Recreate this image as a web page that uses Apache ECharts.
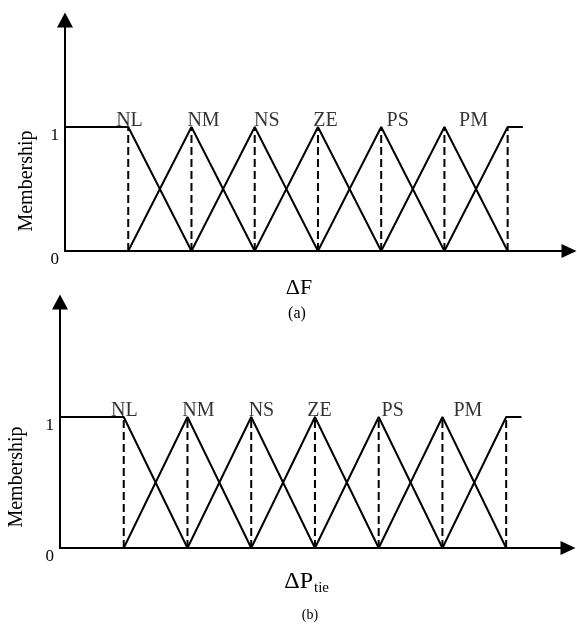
<!DOCTYPE html>
<html>
<head>
<meta charset="utf-8">
<script src="https://cdn.jsdelivr.net/npm/echarts@6/dist/echarts.min.js"></script>
<style>
html, body { margin: 0; padding: 0; background: #fff; }
#chart { width: 577px; height: 630px; }
</style>
</head>
<body>
<div id="chart"></div>
<script>
// fuzzy set labels and the x (universe units) where each label sits
const setNames = ['NL', 'NM', 'NS', 'ZE', 'PS', 'PM']
const labelPosA = [1.02, 2.19, 3.19, 4.12, 5.26, 6.46]
const labelPosB = [1.01, 2.17, 3.16, 4.07, 5.22, 6.40]

// peaks of the membership functions (dashed drop lines)
const peaks = [1, 2, 3, 4, 5, 6, 7]

// membership function breakpoints [x, membership]
const mfNL = [[0, 1], [1, 1], [2, 0]]
const mfNM = [[1, 0], [2, 1], [3, 0]]
const mfNS = [[2, 0], [3, 1], [4, 0]]
const mfZE = [[3, 0], [4, 1], [5, 0]]
const mfPS = [[4, 0], [5, 1], [6, 0]]
const mfPM = [[5, 0], [6, 1], [7, 0]]
const mfPL = [[6, 0], [7, 1], [7.24, 1]]
const membershipFns = [mfNL, mfNM, mfNS, mfZE, mfPS, mfPM, mfPL]

const yTickLabels = [0, 1]

const FONT = 'Liberation Serif'
const INK = '#000'

function axesFor(idx, yMax) {
  let x = {
    gridIndex: idx,
    type: 'value',
    min: 0,
    max: 7.97,
    axisLine: {
      show: true,
      symbol: ['none', 'triangle'],
      symbolSize: [14, 15],
      lineStyle: { color: INK, width: 2 }
    },
    axisTick: { show: false },
    axisLabel: { show: false },
    splitLine: { show: false }
  }
  let y = {
    gridIndex: idx,
    type: 'value',
    min: 0,
    max: yMax,
    interval: 1,
    axisLine: {
      show: true,
      symbol: ['none', 'triangle'],
      symbolSize: [16, 15],
      lineStyle: { color: INK, width: 2 }
    },
    axisTick: { show: false },
    splitLine: { show: false },
    axisLabel: {
      margin: 6,
      color: INK,
      fontFamily: FONT,
      fontSize: 17,
      verticalAlign: 'top',
      showMaxLabel: false,
      formatter: function (v) {
        return yTickLabels.indexOf(v) >= 0 ? String(v) : ''
      }
    }
  }
  return [x, y]
}

function seriesFor(idx, labelPos) {
  let out = []
  membershipFns.forEach(function (mf) {
    out.push({
      type: 'line',
      xAxisIndex: idx,
      yAxisIndex: idx,
      data: mf,
      symbol: 'none',
      lineStyle: { color: INK, width: 2 },
      silent: true,
      z: 3
    })
  })
  peaks.forEach(function (p) {
    out.push({
      type: 'line',
      xAxisIndex: idx,
      yAxisIndex: idx,
      data: [[p, 0], [p, 1]],
      symbol: 'none',
      lineStyle: { color: INK, width: 2, type: [8, 4] },
      silent: true,
      z: 2
    })
  })
  out.push({
    type: 'scatter',
    xAxisIndex: idx,
    yAxisIndex: idx,
    symbolSize: 1,
    itemStyle: { color: 'rgba(0,0,0,0)' },
    data: setNames.map(function (n, i) {
      return { name: n, value: [labelPos[i], 1] }
    }),
    label: {
      show: true,
      position: 'top',
      distance: 0,
      offset: [0, 4],
      formatter: '{b}',
      color: INK,
      fontFamily: FONT,
      fontSize: 20
    },
    silent: true,
    z: 4
  })
  return out
}

const chart = echarts.init(document.getElementById('chart'))

const axA = axesFor(0, 1.863)
const axB = axesFor(1, 1.878)

const option = {
  backgroundColor: '#ffffff',
  animation: false,
  grid: [
    { left: 65, top: 20, width: 504, height: 231 },
    { left: 60, top: 302, width: 508, height: 246 }
  ],
  xAxis: [axA[0], axB[0]],
  yAxis: [axA[1], axB[1]],
  series: seriesFor(0, labelPosA).concat(seriesFor(1, labelPosB)),
  graphic: [
    { type: 'text', x: 27, y: 181, rotation: Math.PI / 2,
      style: { text: 'Membership', fill: INK, font: '20px "Liberation Serif"', align: 'center', verticalAlign: 'middle' } },
    { type: 'text', x: 17, y: 477, rotation: Math.PI / 2,
      style: { text: 'Membership', fill: INK, font: '20px "Liberation Serif"', align: 'center', verticalAlign: 'middle' } },
    { type: 'text', x: 299, y: 288,
      style: { text: 'ΔF', fill: INK, font: '22px "Liberation Serif"', align: 'center', verticalAlign: 'middle' } },
    { type: 'text', x: 297, y: 314,
      style: { text: '(a)', fill: INK, font: '16px "Liberation Serif"', align: 'center', verticalAlign: 'middle' } },
    { type: 'text', x: 313, y: 582,
      style: { text: 'ΔP', fill: INK, font: '24px "Liberation Serif"', align: 'right', verticalAlign: 'middle' } },
    { type: 'text', x: 314, y: 588,
      style: { text: 'tie', fill: INK, font: '15px "Liberation Serif"', align: 'left', verticalAlign: 'middle' } },
    { type: 'text', x: 310, y: 615,
      style: { text: '(b)', fill: INK, font: '14px "Liberation Serif"', align: 'center', verticalAlign: 'middle' } }
  ]
}

chart.setOption(option)
</script>
</body>
</html>
